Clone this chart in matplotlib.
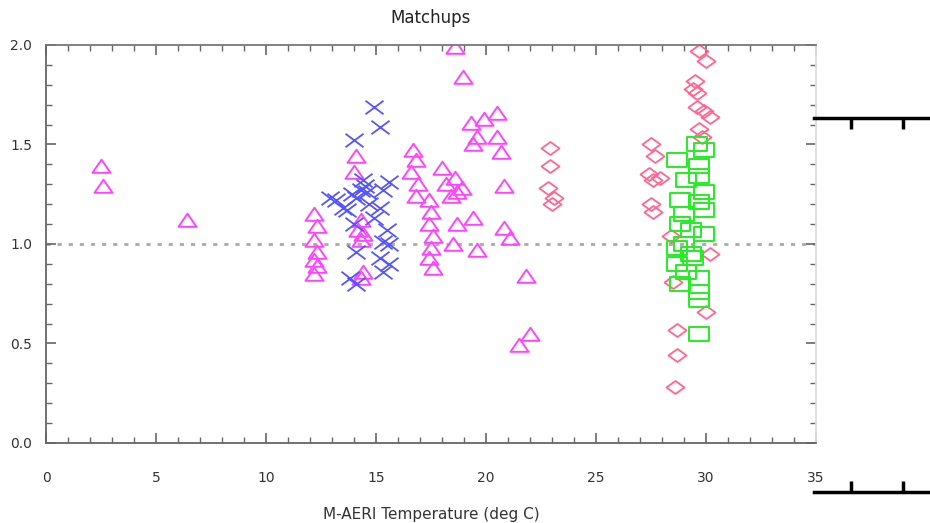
import matplotlib.pyplot as plt
from matplotlib.path import Path
from matplotlib.ticker import MultipleLocator

# magenta triangles
tri_x = [2.5, 2.6, 6.4, 12.2, 12.3, 12.2, 12.3, 12.2, 12.3, 12.2,
         14.1, 14.0, 14.3, 14.2, 14.4, 14.3, 14.4, 14.3,
         16.7, 16.8, 16.6, 16.9, 16.8, 17.4, 17.5, 17.4, 17.6, 17.5, 17.4, 17.6,
         18.0, 18.2, 18.6, 18.9, 18.4, 18.7,
         18.6, 18.95, 20.5, 19.3, 19.9, 19.6, 20.5, 19.4, 20.7, 20.8, 20.8, 21.1,
         18.7, 19.4, 18.5, 19.6, 21.8, 22.0, 21.5]
tri_y = [1.39, 1.29, 1.12, 1.15, 1.09, 1.02, 0.96, 0.92, 0.89, 0.85,
         1.44, 1.36, 1.12, 1.07, 1.05, 1.02, 0.86, 0.83,
         1.47, 1.42, 1.36, 1.30, 1.24, 1.22, 1.16, 1.10, 1.04, 0.98, 0.93, 0.88,
         1.38, 1.30, 1.33, 1.28, 1.24, 1.26,
         1.99, 1.84, 1.66, 1.61, 1.63, 1.54, 1.54, 1.50, 1.46, 1.29, 1.08, 1.03,
         1.10, 1.13, 1.00, 0.97, 0.84, 0.55, 0.49]

# blue crosses
cross_x = [14.9, 15.2, 14.0, 14.3, 14.6, 13.2, 12.9, 13.5, 15.3, 15.2, 14.9, 14.0,
           15.5, 15.3, 15.6, 14.1, 15.2, 15.6, 13.8, 15.3, 14.1, 14.7, 14.4, 14.1,
           13.7, 15.6, 14.5, 13.9]
cross_y = [1.69, 1.59, 1.52, 1.27, 1.26, 1.22, 1.23, 1.18, 1.27, 1.18, 1.13, 1.10,
           1.07, 1.01, 1.00, 0.96, 0.93, 0.90, 0.83, 0.86, 0.80, 1.20, 1.32, 1.23,
           1.17, 1.31, 1.29, 1.25]

# pink diamonds
dia_x = [22.9, 22.9, 22.8, 23.1, 23.0,
         27.5, 27.7, 27.4, 27.9, 27.6, 27.5, 27.6, 28.4, 28.5, 28.7, 28.7, 28.6,
         30.0, 30.2,
         29.7, 30.0, 29.5, 29.6, 29.6, 29.9, 30.2, 29.7, 29.8, 29.4]
dia_y = [1.48, 1.39, 1.28, 1.23, 1.20,
         1.50, 1.44, 1.35, 1.33, 1.32, 1.20, 1.16, 1.04, 0.81, 0.57, 0.44, 0.28,
         0.66, 0.95,
         1.97, 1.92, 1.82, 1.76, 1.69, 1.67, 1.64, 1.58, 1.54, 1.78]

# green squares
sq_x = [29.6, 29.9, 28.7, 29.7, 29.7, 29.1, 29.9, 29.7, 28.8, 29.9, 29.0, 28.8,
        29.3, 29.9, 29.0, 28.7, 29.3, 28.7, 29.1, 29.7, 28.8, 29.7, 29.7, 29.7, 29.4]
sq_y = [1.50, 1.47, 1.42, 1.39, 1.34, 1.32, 1.26, 1.21, 1.22, 1.17, 1.15, 1.10,
        1.07, 1.05, 1.00, 0.98, 0.95, 0.90, 0.86, 0.83, 0.80, 0.76, 0.72, 0.55, 0.93]

# IDL symbols come out a bit wider than tall
tri_m = Path([(-1, -0.7), (1, -0.7), (0, 0.75), (-1, -0.7)], closed=True)
sq_m = Path([(-1, -0.75), (1, -0.75), (1, 0.75), (-1, 0.75), (-1, -0.75)], closed=True)
dia_m = Path([(-1, 0), (0, 0.72), (1, 0), (0, -0.72), (-1, 0)], closed=True)
x_m = Path([(-1, -0.75), (1, 0.75), (-1, 0.75), (1, -0.75)],
           [Path.MOVETO, Path.LINETO, Path.MOVETO, Path.LINETO])

fig = plt.figure(figsize=(9.3, 5.23), dpi=100)
ax = fig.add_axes([0.0495, 0.153, 0.828, 0.761])

ax.axhline(1.0, color="#aaaaaa", linestyle=(0, (1.5, 2.5)), lw=2, zorder=1)
ax.plot(tri_x, tri_y, linestyle="none", marker=tri_m, ms=13, mfc="none",
        mec="#ff44ff", mew=1.4)
ax.plot(cross_x, cross_y, linestyle="none", marker=x_m, ms=13, mfc="none",
        mec="#5555ff", mew=1.3)
ax.plot(dia_x, dia_y, linestyle="none", marker=dia_m, ms=13, mfc="none",
        mec="#ff6690", mew=1.3)
ax.plot(sq_x, sq_y, linestyle="none", marker=sq_m, ms=14, mfc="none",
        mec="#22ee22", mew=1.4)

ax.set_xlim(0, 35)
ax.set_ylim(0, 2.0)
ax.xaxis.set_major_locator(MultipleLocator(5))
ax.xaxis.set_minor_locator(MultipleLocator(1))
ax.yaxis.set_major_locator(MultipleLocator(0.5))
ax.yaxis.set_minor_locator(MultipleLocator(0.1))
ax.yaxis.set_major_formatter(plt.FuncFormatter(lambda v, p: f"{v:.1f}"))
ax.tick_params(which="both", direction="in", top=True, right=True,
               colors="#666666", labelcolor="#333333", labelsize=10)
ax.tick_params(which="major", length=7, width=1.2)
ax.tick_params(which="minor", length=4, width=1.0)
ax.tick_params(axis="x", pad=20)
ax.tick_params(axis="y", pad=10)
ax.spines["left"].set_color("#666666")
ax.spines["bottom"].set_color("#666666")
ax.spines["top"].set_color("#777777")
ax.spines["right"].set_color("#dddddd")
for s in ax.spines.values():
    s.set_linewidth(1.3)

ax.set_title("Matchups", fontsize=12, color="#222222", pad=16)
ax.set_xlabel("M-AERI Temperature (deg C)", fontsize=11, color="#333333",
              labelpad=16)

# edge of a neighbouring panel, cut off by the image border
ax2 = fig.add_axes([0.875, 0.059, 0.2, 0.715])
ax2.set_xlim(0, 186)
ax2.set_xticks([37, 89])
ax2.set_yticks([])
ax2.tick_params(axis="x", direction="in", top=True, bottom=True, length=8,
                width=2.5, labelbottom=False, color="black")
ax2.spines["left"].set_visible(False)
ax2.spines["right"].set_visible(False)
for side in ("top", "bottom"):
    ax2.spines[side].set_linewidth(2.5)
    ax2.spines[side].set_color("black")
ax2.patch.set_alpha(0)

fig.savefig("out.png", dpi=100)
